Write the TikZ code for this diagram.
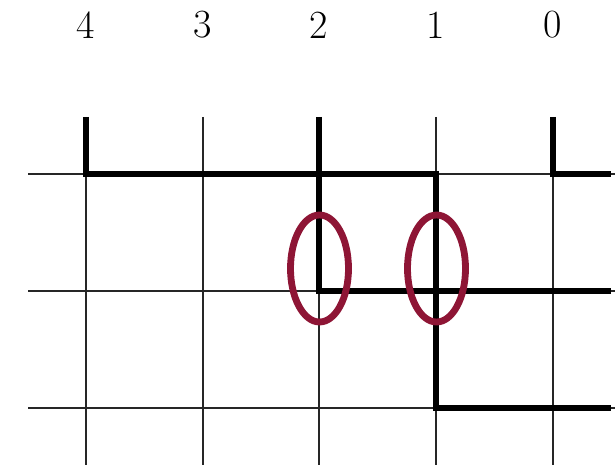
\documentclass[tikz,border=0pt]{standalone}
\definecolor{wine}{HTML}{8E1535}
\tikzset{
  gridline/.style={line width=1.3pt, black!85},
  wire/.style={line width=5.5pt, black, line join=miter, line cap=butt},
  mark ring/.style={line width=6.8pt, draw=wine},
  digit/.style={font=\fontsize{40}{48}\selectfont, inner sep=0pt}
}
\begin{document}
\begin{tikzpicture}[x=1pt,y=-1pt]
\useasboundingbox (0,0) rectangle (615,468);
% grid
\foreach \x in {86,203,319,436,553} \draw[gridline] (\x,117) -- (\x,465);
\foreach \y in {174,291,408} \draw[gridline] (28,\y) -- (615,\y);
% labels
\foreach \x/\t in {86/4,203/3,319/2,436/1,553/0} \node[digit] (l\t) at (\x,25) {\t};
% thick paths
\draw[wire] (86,117) -- (86,174) -- (436,174) -- (436,408) -- (611,408);
\draw[wire] (319,117) -- (319,291) -- (611,291);
\draw[wire] (553,117) -- (553,174) -- (611,174);
% ellipses
\draw[mark ring] (319.5,268.5) ellipse [x radius=29, y radius=53.5];
\draw[mark ring] (436.5,268.5) ellipse [x radius=29, y radius=53.5];
\end{tikzpicture}
\end{document}
